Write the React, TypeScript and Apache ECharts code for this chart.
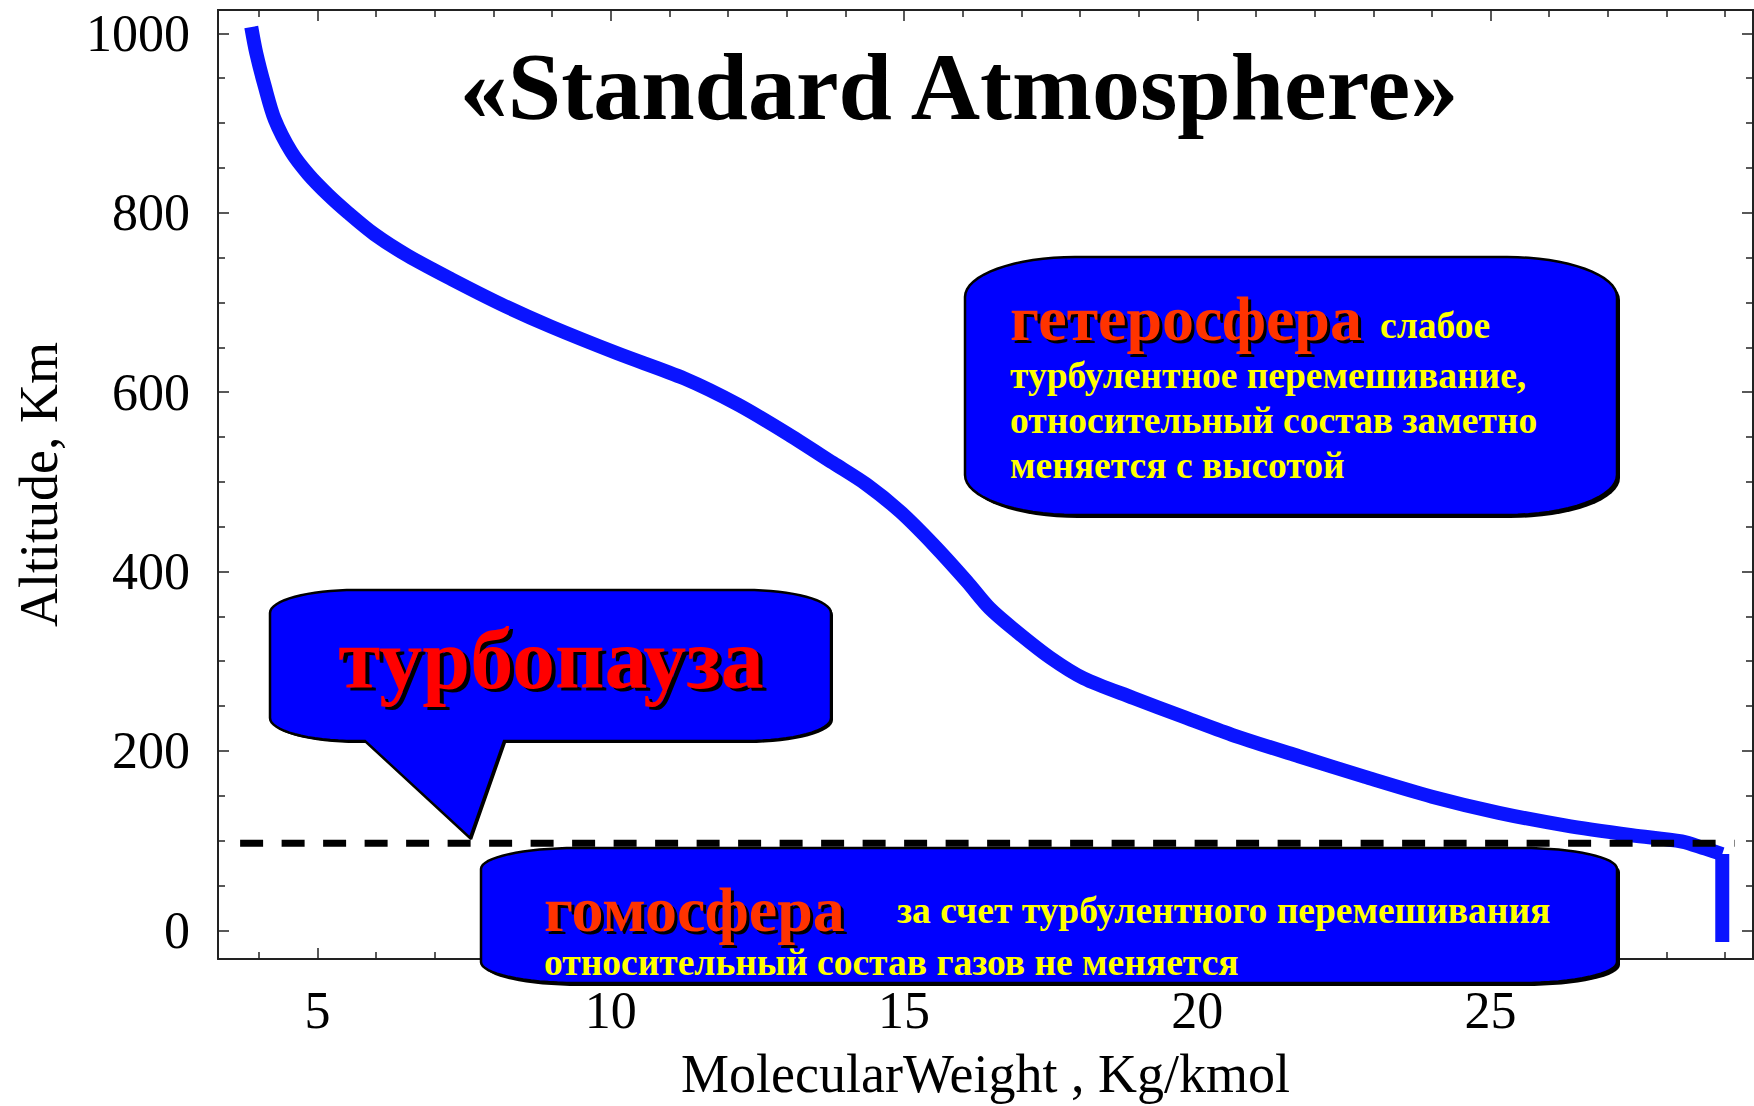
import React, { useEffect, useRef } from "react";
import * as echarts from "echarts";

// Mean molecular weight of air (kg/kmol) against altitude (km), standard atmosphere
const weight = [
  3.87, 3.955, 4.1, 4.27, 4.55, 4.84, 5.18, 5.52, 5.97, 6.54, 7.28, 8.13, 8.98,
  10.12, 11.26, 12.17, 13.05, 13.79, 14.36, 14.93, 15.5, 16.07, 16.46, 16.92,
  17.49, 18.06, 18.91, 19.76, 20.59, 21.73, 22.86, 24.0, 25.14, 26.27, 27.41,
  28.26, 28.66, 28.95, 28.95,
];
const altitude = [
  1007, 978, 941, 904, 868, 843, 820, 800, 776, 752, 726, 698, 673, 643, 615,
  586, 552, 521, 497, 467, 430, 389, 359, 333, 304, 281, 259, 238, 218, 194,
  171, 149, 131, 117, 106, 99, 91, 85, -13,
];

// Turbopause level (km) and the span of the dashed marker line
const turbopauseAltitude = 97;
const turbopauseSpan = [3.68, 29.16];

// Axis ranges and ticks
const xRange = [3.303, 29.474];
const yRange = [-32, 1026];
const xMajorTicks = [5, 10, 15, 20, 25];
const xMinorTicks = [4, 6, 7, 8, 9, 11, 12, 13, 14, 16, 17, 18, 19, 21, 22, 23, 24, 26, 27, 28, 29];
const yMajorTicks = [0, 200, 400, 600, 800, 1000];
const yMinorTicks = [50, 100, 150, 250, 300, 350, 450, 500, 550, 650, 700, 750, 850, 900, 950];

// Texts
const titleText = "«Standard Atmosphere»";
const xName = "MolecularWeight , Kg/kmol";
const yName = "Altitude, Km";
const turboText = "турбопауза";
const heteroTitle = "гетеросфера";
const heteroLines = [
  "слабое",
  "турбулентное перемешивание,",
  "относительный состав заметно",
  "меняется с высотой",
];
const homoTitle = "гомосфера";
const homoLines = [
  "за счет турбулентного перемешивания",
  "относительный состав газов не меняется",
];

const SERIF = '"Liberation Serif", "Times New Roman", serif';
const FRAME = "#222222";
const BOX_BLUE = "#0000ff";
const CURVE_BLUE = "#0a14ff";

type Pt = [number, number];

// Rectangle with elliptical corners; optional callout pointer on the bottom edge
function roundedBox(
  x0: number, y0: number, x1: number, y1: number, rx: number, ry: number,
  pointer?: { left: number; right: number; tip: Pt }
): Pt[] {
  const pts: Pt[] = [];
  const N = 16;
  const corner = (cx: number, cy: number, a0: number) => {
    for (let i = 0; i <= N; i++) {
      const a = a0 + (i / N) * (Math.PI / 2);
      pts.push([cx + rx * Math.cos(a), cy + ry * Math.sin(a)]);
    }
  };
  corner(x0 + rx, y0 + ry, Math.PI);
  corner(x1 - rx, y0 + ry, 1.5 * Math.PI);
  corner(x1 - rx, y1 - ry, 0);
  if (pointer) {
    pts.push([pointer.right, y1], pointer.tip, [pointer.left, y1]);
  }
  corner(x0 + rx, y1 - ry, 0.5 * Math.PI);
  return pts;
}

function boxElements(points: Pt[], shadow: number) {
  return [
    {
      type: "polygon",
      x: shadow,
      y: shadow,
      z: 4,
      shape: { points },
      style: { fill: "#000000" },
    },
    {
      type: "polygon",
      z: 5,
      shape: { points },
      style: { fill: BOX_BLUE, stroke: "#000000", lineWidth: 2.5 },
    },
  ];
}

// Bold serif label; a black copy offset behind it gives the drop shadow
function textEl(
  text: string, x: number, y: number, size: number, color: string,
  align: string, shadow?: [number, number]
) {
  const base = {
    text,
    fontSize: size,
    fontFamily: SERIF,
    fontWeight: "bold",
    align,
    textAlign: align,
    verticalAlign: "middle",
    textVerticalAlign: "middle",
  };
  const els: any[] = [];
  if (shadow) {
    els.push({
      type: "text",
      x: x + shadow[0],
      y: y + shadow[1],
      z: 7,
      silent: true,
      style: { ...base, fill: "#000000" },
    });
  }
  els.push({ type: "text", x, y, z: 8, style: { ...base, fill: color } });
  return els;
}

function xAxisDef(position: string, ticks: number[], len: number, main: boolean) {
  return {
    type: "value",
    position,
    min: xRange[0],
    max: xRange[1],
    name: main ? xName : "",
    nameLocation: "middle",
    nameGap: 88,
    nameTextStyle: { fontSize: 54, fontFamily: SERIF, color: "#000" },
    axisLine: { show: main || position === "top", onZero: false, lineStyle: { color: FRAME, width: 2 } },
    axisTick: { show: true, inside: true, length: len, customValues: ticks, lineStyle: { color: FRAME, width: 1.5 } },
    axisLabel: {
      show: main,
      customValues: ticks,
      margin: 25,
      fontSize: 52,
      fontFamily: SERIF,
      color: "#000",
      formatter: (v: number) => String(v),
    },
    splitLine: { show: false },
    minorTick: { show: false },
  };
}

function yAxisDef(position: string, ticks: number[], len: number, main: boolean) {
  return {
    type: "value",
    position,
    min: yRange[0],
    max: yRange[1],
    name: main ? yName : "",
    nameLocation: "middle",
    nameGap: 152,
    nameRotate: 90,
    nameTextStyle: { fontSize: 54, fontFamily: SERIF, color: "#000" },
    axisLine: { show: main || position === "right", onZero: false, lineStyle: { color: FRAME, width: 2 } },
    axisTick: { show: true, inside: true, length: len, customValues: ticks, lineStyle: { color: FRAME, width: 1.5 } },
    axisLabel: {
      show: main,
      customValues: ticks,
      margin: 28,
      fontSize: 52,
      fontFamily: SERIF,
      color: "#000",
      formatter: (v: number) => String(v),
    },
    splitLine: { show: false },
    minorTick: { show: false },
  };
}

export default function App() {
  const ref = useRef<HTMLDivElement>(null);

  useEffect(() => {
    if (!ref.current) return;
    const chart = echarts.init(ref.current, undefined, { renderer: "svg" });

    const points = weight.map((w, i) => [w, altitude[i]]);
    // smooth upper profile, then the straight drop below the turbopause
    const upper = points.slice(0, points.length - 1);
    const drop = points.slice(points.length - 2);
    const turbopause = turbopauseSpan.map((w) => [w, turbopauseAltitude]);

    const heteroBox = roundedBox(965, 257, 1617, 515, 110, 40);
    const homoBox = roundedBox(481, 848, 1617, 983, 95, 21);
    const turboBox = roundedBox(270, 590, 831, 741, 85, 23, {
      left: 365,
      right: 504,
      tip: [470, 838],
    });

    const graphics: any[] = [
      ...boxElements(heteroBox, 3),
      ...boxElements(homoBox, 3),
      ...boxElements(turboBox, 2),
      ...textEl(titleText, 959, 86, 96, "#000000", "center"),
      ...textEl(turboText, 551, 659, 86, "#ff0000", "center", [4, 3]),
      ...textEl(heteroTitle, 1010, 318, 64, "#ff3300", "left", [3, 3]),
      ...textEl(heteroLines[0], 1380, 325, 37.5, "#ffff00", "left"),
      ...textEl(heteroLines[1], 1010, 375, 37.5, "#ffff00", "left"),
      ...textEl(heteroLines[2], 1010, 420, 37.5, "#ffff00", "left"),
      ...textEl(heteroLines[3], 1010, 465, 37.5, "#ffff00", "left"),
      ...textEl(homoTitle, 544, 909, 64, "#ff3300", "left", [3, 3]),
      ...textEl(homoLines[0], 897, 910, 37.5, "#ffff00", "left"),
      ...textEl(homoLines[1], 544, 962, 37.5, "#ffff00", "left"),
    ];

    const curveStyle = { color: CURVE_BLUE, width: 14, cap: "butt", join: "round" };

    chart.setOption({
      animation: false,
      backgroundColor: "#ffffff",
      grid: { left: 218, top: 10, width: 1535, height: 953, show: false },
      xAxis: [
        xAxisDef("bottom", xMajorTicks, 11, true),
        xAxisDef("bottom", xMinorTicks, 7, false),
        xAxisDef("top", xMajorTicks, 11, false),
        xAxisDef("top", xMinorTicks, 7, false),
      ],
      yAxis: [
        yAxisDef("left", yMajorTicks, 11, true),
        yAxisDef("left", yMinorTicks, 7, false),
        yAxisDef("right", yMajorTicks, 11, false),
        yAxisDef("right", yMinorTicks, 7, false),
      ],
      series: [
        {
          type: "line",
          data: upper,
          xAxisIndex: 0,
          yAxisIndex: 0,
          symbol: "none",
          smooth: 0.3,
          lineStyle: curveStyle,
          z: 2,
        },
        {
          type: "line",
          data: drop,
          xAxisIndex: 0,
          yAxisIndex: 0,
          symbol: "none",
          lineStyle: curveStyle,
          z: 2,
        },
        {
          type: "line",
          data: turbopause,
          xAxisIndex: 0,
          yAxisIndex: 0,
          symbol: "none",
          lineStyle: { color: "#000000", width: 7, type: [23, 18.5] },
          z: 3,
        },
      ],
      graphic: graphics,
    });

    return () => chart.dispose();
  }, []);

  return (
    <div
      ref={ref}
      style={{ position: "fixed", left: 0, top: 0, width: 1754, height: 1106, background: "#fff" }}
    />
  );
}
